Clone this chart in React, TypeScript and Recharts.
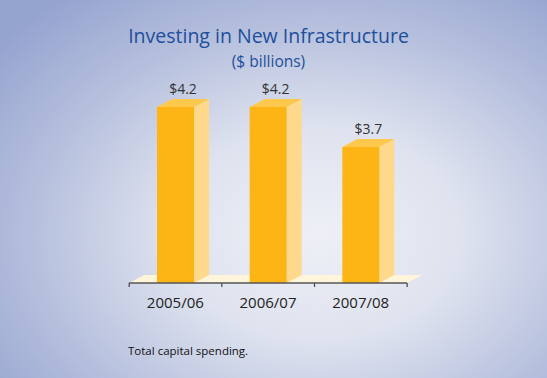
import { Bar, BarChart, XAxis, YAxis } from 'recharts';

const YEARS = ['2005/06', '2006/07', '2007/08'];
const SPENDING = [4.2, 4.2, 3.7];
const Y_DOMAIN: [number, number] = [2, 5];

const FONT = '"Open Sans", "Noto Sans", sans-serif';
const W = 547;
const H = 378;
const MARGIN = { top: 43, right: 140, bottom: 65, left: 129 };
const BAND = (W - MARGIN.left - MARGIN.right) / YEARS.length;
const DX = 15;
const DY = 8;

const rows = YEARS.map((year, i) => ({ year, value: SPENDING[i] }));

function Bar3D(props: any) {
  const { x, y, width, height, value, index } = props;
  const base = y + height;
  const bx = x + width / 2 - BAND / 2;
  const last = index === YEARS.length - 1;
  return (
    <g>
      <polygon
        points={`${bx},${base} ${bx + BAND},${base} ${bx + BAND + DX},${base - DY} ${bx + DX},${base - DY}`}
        fill="#fff5da"
      />
      <line x1={bx} x2={bx} y1={base} y2={base + 4} stroke="#444" strokeWidth={1.2} />
      {last && <line x1={bx + BAND} x2={bx + BAND} y1={base} y2={base + 4} stroke="#444" strokeWidth={1.2} />}
      <polygon
        points={`${x + width},${y} ${x + width + DX},${y - DY} ${x + width + DX},${base - DY} ${x + width},${base}`}
        fill="#fed88b"
      />
      <polygon
        points={`${x},${y} ${x + DX},${y - DY} ${x + width + DX},${y - DY} ${x + width},${y}`}
        fill="#fdc84c"
      />
      <rect x={x} y={y} width={width} height={height} fill="#fdb515" />
      <text
        x={x + (width + DX) / 2}
        y={y - DY - 5}
        textAnchor="middle"
        fontFamily={FONT}
        fontSize={14}
        fill="#333"
      >
        ${value.toFixed(1)}
      </text>
    </g>
  );
}

export default function App() {
  return (
    <div
      style={{
        position: 'absolute',
        left: 0,
        top: 0,
        width: W,
        height: H,
        overflow: 'hidden',
        background: 'radial-gradient(ellipse 75% 80% at 58% 62%, #eef0f6 0%, #dfe3ef 35%, #b5bfdd 70%, #95a3cf 100%)',
        fontFamily: FONT,
      }}
    >
      <div
        style={{
          position: 'absolute',
          top: 22,
          left: 0,
          width: 537,
          textAlign: 'center',
          color: '#1d4f9b',
          fontSize: 19.5,
        }}
      >
        Investing in New Infrastructure
      </div>
      <div
        style={{
          position: 'absolute',
          top: 50,
          left: 0,
          width: 537,
          textAlign: 'center',
          color: '#1d4f9b',
          fontSize: 15.5,
        }}
      >
        ($ billions)
      </div>
      <BarChart
        width={W}
        height={H}
        data={rows}
        margin={MARGIN}
        style={{ position: 'absolute', left: 0, top: 0 }}
      >
        <YAxis hide domain={Y_DOMAIN} />
        <XAxis
          dataKey="year"
          axisLine={{ stroke: '#555', strokeWidth: 1.5 }}
          tickLine={false}
          tickMargin={8}
          tick={{ fill: '#222', fontSize: 15, fontFamily: FONT }}
        />
        <Bar dataKey="value" barSize={37} shape={Bar3D} isAnimationActive={false} />
      </BarChart>
      <div
        style={{
          position: 'absolute',
          top: 343,
          left: 128,
          color: '#111',
          fontSize: 11.5,
        }}
      >
        Total capital spending.
      </div>
    </div>
  );
}
